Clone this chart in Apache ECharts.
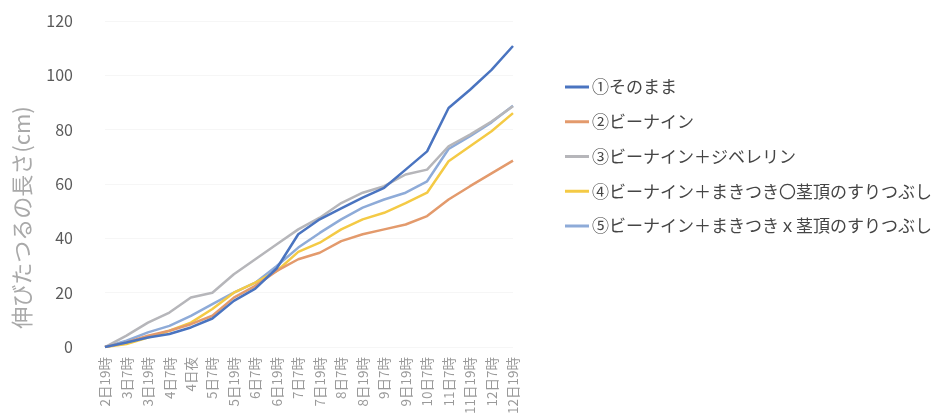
<!DOCTYPE html>
<html>
<head>
<meta charset="utf-8">
<script src="https://cdn.jsdelivr.net/npm/echarts@6/dist/echarts.min.js"></script>
<style>
  html, body { margin: 0; padding: 0; background: #fff; }
  #chart { width: 934px; height: 417px; }
</style>
</head>
<body>
<div id="chart"></div>
<script>
// 観測時刻
const categories = [
  '2日19時', '3日7時', '3日19時', '4日7時', '4日夜', '5日7時', '5日19時',
  '6日7時', '6日19時', '7日7時', '7日19時', '8日7時', '8日19時', '9日7時',
  '9日19時', '10日7時', '11日7時', '11日19時', '12日7時', '12日19時'
];

// 各条件の伸びたつるの長さ (cm)
const sonomama = [0, 1.7, 3.5, 4.8, 7.2, 10.5, 17, 21.5, 29, 41.5, 47, 51, 55, 58.6, 65.3, 72, 88, 94.7, 102, 110.8];
const binain = [0, 1.7, 4.2, 6, 8.4, 11.5, 18.2, 22.5, 28, 32.3, 34.7, 39, 41.5, 43.3, 45.1, 48.2, 54.3, 59.2, 63.9, 68.6];
const binainGibberellin = [0, 4.2, 9, 12.7, 18.2, 20, 26.8, 32.3, 37.8, 43.3, 47.6, 53, 56.8, 59.2, 63.5, 65.3, 73.9, 78.2, 83, 88.6];
const makitsukiMaru = [0, 1.1, 3.5, 6, 9, 14, 20, 23.7, 28, 35, 38.4, 43.3, 47, 49.4, 53, 56.8, 68.4, 73.9, 79.4, 86.1];
const makitsukiBatsu = [0, 2.3, 5.4, 7.8, 11.5, 15.8, 20, 23.7, 29.8, 36.6, 42, 47, 51.3, 54.3, 56.8, 61, 72.9, 77.6, 82.7, 88.8];

const seriesNames = [
  '①そのまま',
  '②ビーナイン',
  '③ビーナイン＋ジベレリン',
  '④ビーナイン＋まきつき〇茎頂のすりつぶし',
  '⑤ビーナイン＋まきつきｘ茎頂のすりつぶし'
];
const seriesData = [sonomama, binain, binainGibberellin, makitsukiMaru, makitsukiBatsu];
const colors = ['#4a74c0', '#e39a6c', '#b6b6ba', '#f4ca45', '#8eabd8'];

// y 軸の目盛り
const yTicks = [0, 20, 40, 60, 80, 100, 120];

const FONT = '"Noto Sans CJK JP", "Noto Sans", sans-serif';

const chart = echarts.init(document.getElementById('chart'));
chart.setOption({
  animation: false,
  backgroundColor: '#ffffff',
  color: colors,
  grid: { left: 105, right: 421, top: 21, bottom: 69 },
  legend: {
    orient: 'vertical',
    left: 560,
    top: 72,
    icon: 'rect',
    itemWidth: 24,
    itemHeight: 3,
    itemGap: 14.75,
    textStyle: { color: '#454545', fontSize: 17, fontFamily: FONT, lineHeight: 20, padding: [0, 0, 0, -2] },
    data: seriesNames
  },
  xAxis: {
    type: 'category',
    data: categories,
    boundaryGap: false,
    axisLine: { show: false },
    axisTick: { show: false },
    axisLabel: {
      rotate: 90,
      interval: 0,
      margin: 10,
      color: '#9a9a9a',
      fontSize: 13.5,
      fontFamily: FONT
    }
  },
  yAxis: {
    type: 'value',
    min: yTicks[0],
    max: yTicks[yTicks.length - 1],
    interval: 20,
    name: '伸びたつるの長さ(cm)',
    nameLocation: 'middle',
    nameGap: 72,
    nameTextStyle: { color: '#a9a9a9', fontSize: 22, fontFamily: FONT, padding: [0, 67, 0, 0] },
    axisLine: { show: false },
    axisTick: { show: false },
    axisLabel: { margin: 32, color: '#5a5a5a', fontSize: 16, fontFamily: FONT },
    splitLine: { lineStyle: { color: '#f6f6f6', width: 1 } }
  },
  series: seriesData.map((d, i) => ({
    name: seriesNames[i],
    type: 'line',
    data: d,
    symbol: 'none',
    lineStyle: { width: 2.5, color: colors[i] },
    z: 10 - i
  }))
});
</script>
</body>
</html>
